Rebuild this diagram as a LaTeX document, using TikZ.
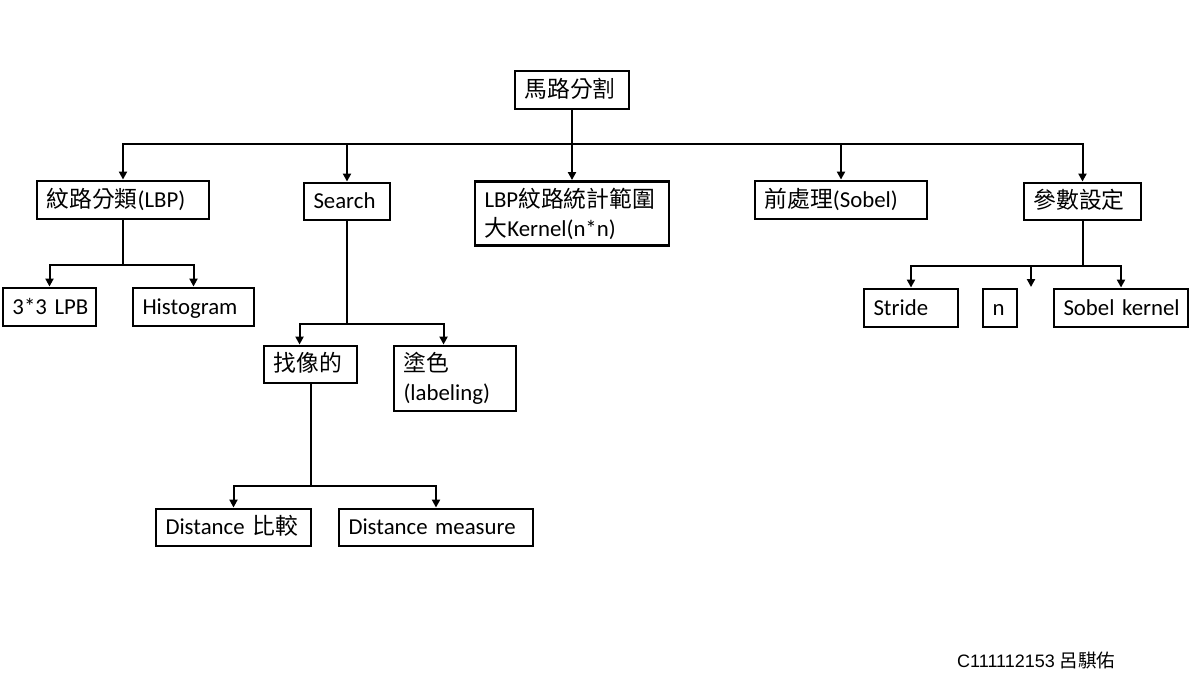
\documentclass[tikz,border=0pt]{standalone}
\usepackage{fontspec}
\setmainfont{Carlito}
\newfontfamily\cjk{Noto Sans CJK TC}
\newfontfamily\arialf{Liberation Sans}
\usetikzlibrary{arrows.meta}
\newcommand\bxfont{\fontsize{22.8pt}{29pt}\selectfont}
\tikzset{
  bx/.style={draw, line width=2.9pt, inner xsep=9.5pt, inner ysep=0pt, align=left, font=\bxfont},
  oneln/.style={text height=20pt, text depth=5.4pt},
  ln/.style={line width=2pt},
  arr/.style={line width=2pt, -{Triangle[length=8pt,width=8pt]}},
}
\begin{document}
\begin{tikzpicture}[x=1pt,y=-1pt]
\fill[white] (0,0) rectangle (1196,685);
\useasboundingbox (0,0) rectangle (1196,685);
% nodes
\node[bx, oneln, text width=95pt,  minimum height=38pt] (root)    at (572,90)     {\cjk 馬路分割};
\node[bx, oneln, text width=153pt, minimum height=38pt] (lbp)     at (123,200)    {\mbox{{\cjk 紋路分類}(LBP)}};
\node[bx, oneln, text width=67pt,  minimum height=37pt] (search)  at (347,201.5)  {Search};
\node[bx, text width=175pt, minimum height=64pt] (lbpstat) at (572,213.5)  {\mbox{LBP{\cjk 紋路統計範圍}}\\\mbox{{\cjk 大}Kernel(n*n)}};
\node[bx, oneln, text width=153pt, minimum height=38pt] (pre)     at (841,200)    {\mbox{{\cjk 前處理}(Sobel)}};
\node[bx, oneln, text width=98pt,  minimum height=37pt] (param)   at (1082.5,201.5) {\cjk 參數設定};
\node[bx, oneln, text width=74pt,  minimum height=38pt] (l33)     at (49.5,307)   {\mbox{3*3 LPB}};
\node[bx, oneln, text width=102pt, minimum height=38pt] (hist)    at (193.5,307)  {Histogram};
\node[bx, oneln, text width=74pt,  minimum height=37pt] (find)    at (310.5,364.5) {\cjk 找像的};
\node[bx, text width=103pt, minimum height=65pt] (color)   at (455,378.5)  {{\cjk 塗色}\\(labeling)};
\node[bx, oneln, text width=136pt, minimum height=37pt] (dcmp)    at (233.5,527.5) {\mbox{Distance {\cjk 比較}}};
\node[bx, oneln, text width=175pt, minimum height=37pt] (dmeas)   at (436,527.5)  {\mbox{Distance measure}};
\node[bx, oneln, text width=75pt,  minimum height=38pt] (stride)  at (911,308)    {Stride};
\node[bx, oneln, text width=15pt,  minimum height=38pt] (nn)      at (1000,308)   {n};
\node[bx, oneln, text width=115pt, minimum height=38pt] (sobel)   at (1121,308)   {\mbox{Sobel kernel}};
\node[anchor=west, inner sep=0pt, font=\arialf\fontsize{18pt}{20pt}\selectfont] (sig) at (957,660) {C111112153 {\cjk\fontsize{18.5pt}{20pt}\selectfont 呂騏佑}};
% bus coordinates
\coordinate (b1) at (0,144);
\coordinate (b2) at (0,265);
\coordinate (b3) at (0,324);
\coordinate (b4) at (0,486);
\coordinate (b5) at (0,266);
\coordinate (dang) at (1031,287);
% top level
\draw[arr] (root.south) -- (lbpstat.north);
\draw[arr] (root.south |- b1) -| (lbp.north);
\draw[arr] (root.south |- b1) -| (param.north);
\draw[arr] (search.north |- b1) -- (search.north);
\draw[arr] (pre.north |- b1) -- (pre.north);
% LBP children
\draw[ln] (lbp.south) -- (lbp.south |- b2);
\draw[arr] (lbp.south |- b2) -| (l33.north);
\draw[arr] (lbp.south |- b2) -| (hist.north);
% Search children
\draw[ln] (search.south) -- (search.south |- b3);
\draw[arr] (search.south |- b3) -| ([xshift=37pt]find.north west);
\draw[arr] (search.south |- b3) -| ([xshift=51pt]color.north west);
% find children
\draw[ln] (find.south) -- (find.south |- b4);
\draw[arr] (find.south |- b4) -| (dcmp.north);
\draw[arr] (find.south |- b4) -| (dmeas.north);
% param children
\draw[ln] (param.south) -- (param.south |- b5);
\draw[arr] (param.south |- b5) -| (stride.north);
\draw[arr] (param.south |- b5) -| (sobel.north);
\draw[arr] (dang |- b5) -- (dang);
\end{tikzpicture}
\end{document}
